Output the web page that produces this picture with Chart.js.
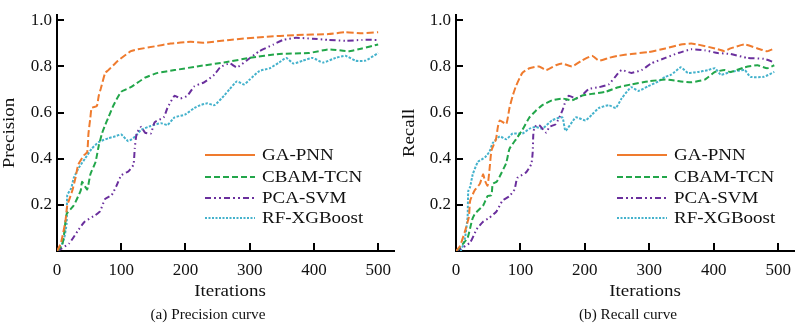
<!DOCTYPE html>
<html>
<head>
<meta charset="utf-8">
<script src="https://cdn.jsdelivr.net/npm/chart.js@4.4.0/dist/chart.umd.min.js"></script>
<style>
  body { margin: 0; background: #fff; font-family: 'Liberation Serif', serif; }
  .wrap { position: relative; width: 800px; height: 328px; }
  canvas { position: absolute; top: 0; }
  #precisionChart { left: 0; }
  #recallChart { left: 400px; }
  .font-warm { position: absolute; left: -1000px; top: 0; font-family: 'Liberation Serif'; }
</style>
</head>
<body>
<span class="font-warm">0.2 Iterations</span>
<div class="wrap">
  <canvas id="precisionChart" width="400" height="328"></canvas>
  <canvas id="recallChart" width="400" height="328"></canvas>
</div>
<script>
// Series names and axis ticks
const seriesNames = ['GA-PNN', 'CBAM-TCN', 'PCA-SVM', 'RF-XGBoost'];
const xTicks = [0, 100, 200, 300, 400, 500];
const yTicks = [0.2, 0.4, 0.6, 0.8, 1.0];

// (a) Precision
const gaPrecIter = [0,6,13,16,24,29,33,42,47,49,52,54,62,65,68,75,80,95,115,126,152,177,208,229,269,322,372,423,449,475,500];
const gaPrecVal = [0,0.033,0.127,0.197,0.263,0.32,0.374,0.415,0.428,0.509,0.579,0.62,0.628,0.673,0.702,0.772,0.784,0.825,0.866,0.874,0.887,0.899,0.907,0.903,0.915,0.928,0.936,0.94,0.948,0.944,0.948];
const cbamPrecIter = [0,8,11,15,26,37,39,47,52,60,65,70,75,80,88,100,115,137,157,183,218,260,300,346,392,423,454,475,500];
const cbamPrecVal = [0,0.025,0.074,0.16,0.197,0.263,0.30,0.267,0.333,0.386,0.456,0.509,0.546,0.579,0.632,0.69,0.71,0.751,0.772,0.784,0.80,0.817,0.837,0.854,0.858,0.874,0.866,0.878,0.895];
const pcaPrecIter = [0,3,19,34,43,60,67,75,85,92,100,111,119,121,124,131,137,146,152,166,172,183,192,203,214,229,245,254,269,280,295,315,337,352,372,398,423,449,475,500];
const pcaPrecVal = [0,0.004,0.033,0.094,0.127,0.156,0.172,0.226,0.242,0.279,0.328,0.345,0.374,0.443,0.509,0.538,0.513,0.509,0.558,0.579,0.62,0.673,0.661,0.673,0.714,0.731,0.764,0.796,0.813,0.796,0.825,0.866,0.895,0.915,0.924,0.92,0.915,0.911,0.915,0.915];
const rfPrecIter = [0,6,11,15,16,22,26,34,44,54,65,80,91,100,111,122,131,146,162,172,183,199,214,223,234,245,260,269,280,291,300,315,331,346,357,368,383,398,414,434,449,465,480,500];
const rfPrecVal = [0,0.02,0.053,0.119,0.242,0.271,0.316,0.361,0.402,0.443,0.472,0.489,0.497,0.505,0.476,0.497,0.525,0.542,0.554,0.546,0.579,0.591,0.62,0.632,0.64,0.632,0.673,0.702,0.735,0.722,0.743,0.78,0.792,0.817,0.837,0.813,0.825,0.837,0.817,0.837,0.846,0.825,0.825,0.858];

// (b) Recall
const gaRecIter = [0,6,14,20,22,29,37,42,45,49,52,55,62,65,68,78,83,88,93,103,114,129,140,155,165,180,195,211,222,237,252,272,298,325,349,365,375,402,417,426,448,468,483,494];
const gaRecVal = [0,0.02,0.086,0.148,0.218,0.263,0.291,0.332,0.304,0.283,0.353,0.435,0.484,0.538,0.566,0.55,0.62,0.673,0.714,0.772,0.792,0.80,0.784,0.805,0.813,0.80,0.825,0.846,0.825,0.837,0.846,0.854,0.862,0.878,0.895,0.899,0.895,0.878,0.866,0.878,0.895,0.878,0.866,0.878];
const cbamRecIter = [0,5,18,25,29,42,49,55,57,63,68,78,83,93,103,114,124,134,149,165,180,195,211,232,252,272,298,325,349,365,386,402,417,426,448,468,483,494];
const cbamRecVal = [0,0.012,0.057,0.135,0.16,0.197,0.238,0.242,0.291,0.30,0.324,0.382,0.443,0.484,0.525,0.579,0.608,0.632,0.653,0.661,0.653,0.673,0.681,0.69,0.71,0.722,0.735,0.743,0.735,0.731,0.743,0.776,0.784,0.776,0.796,0.805,0.792,0.805];
const pcaRecIter = [0,6,22,32,42,52,63,72,83,91,95,109,117,119,120,122,129,140,145,155,165,170,175,186,195,206,222,237,247,257,272,288,303,325,345,365,386,406,426,452,478,494];
const pcaRecVal = [0,0.008,0.037,0.094,0.127,0.144,0.172,0.218,0.238,0.267,0.316,0.341,0.378,0.427,0.505,0.538,0.546,0.513,0.538,0.55,0.608,0.649,0.673,0.661,0.673,0.702,0.71,0.722,0.755,0.784,0.772,0.784,0.813,0.837,0.858,0.874,0.87,0.858,0.854,0.837,0.833,0.817];
const rfRecIter = [0,8,14,18,19,22,26,34,45,52,57,68,78,88,103,114,124,134,149,165,170,186,201,211,222,237,248,257,272,283,298,314,325,334,349,360,375,391,402,411,426,448,457,478,494];
const rfRecVal = [0,0.004,0.057,0.148,0.259,0.279,0.332,0.386,0.406,0.431,0.468,0.497,0.484,0.509,0.509,0.53,0.538,0.53,0.566,0.579,0.521,0.579,0.566,0.591,0.62,0.632,0.62,0.661,0.71,0.694,0.714,0.735,0.755,0.764,0.796,0.772,0.776,0.784,0.792,0.764,0.776,0.784,0.755,0.755,0.776];

// Line styles per series (plot dash vs legend sample dash)
const seriesStyles = [
    { color: '#ef7b2e', dash: [7, 3], legendDash: [] },
    { color: '#22a64a', dash: [6, 3], legendDash: [6, 3] },
    { color: '#6a2f9d', dash: [6, 3, 1.5, 3, 1.5, 3], legendDash: [6, 3, 2, 3, 2, 3] },
    { color: '#44b2cc', dash: [2.5, 1.5], legendDash: [2, 1.5] }
];

const serif = "'Liberation Serif'";

function toPoints(xs, ys) {
    return xs.map((x, i) => ({ x: x, y: ys[i] }));
}

// Inward tick marks, axis titles, caption and the in-plot legend
const framePlugin = {
    id: 'frame',
    afterDraw(chart, args, opts) {
        const { ctx, chartArea: a, scales: { x, y } } = chart;
        ctx.save();
        ctx.strokeStyle = '#000';
        ctx.lineWidth = 2;
        ctx.setLineDash([]);
        ctx.beginPath();
        xTicks.forEach(v => {
            if (v === 0) return;
            const px = Math.round(x.getPixelForValue(v));
            ctx.moveTo(px, a.bottom);
            ctx.lineTo(px, a.bottom - 8);
        });
        yTicks.forEach(v => {
            const py = Math.round(y.getPixelForValue(v));
            ctx.moveTo(a.left, py);
            ctx.lineTo(a.left + 7, py);
        });
        ctx.stroke();

        ctx.fillStyle = '#111';
        ctx.textAlign = 'center';
        ctx.textBaseline = 'middle';

        // y title
        ctx.save();
        ctx.translate(opts.yTitleX, 133);
        ctx.rotate(-Math.PI / 2);
        ctx.scale(1.15, 1);
        ctx.font = '16.5px ' + serif;
        ctx.fillText(opts.yTitle, 0, 0);
        ctx.restore();

        // x title
        ctx.save();
        ctx.translate(opts.xTitleX, 292);
        ctx.scale(1.15, 1);
        ctx.font = '16.5px ' + serif;
        ctx.fillText('Iterations', 0, 0);
        ctx.restore();

        // caption
        ctx.save();
        ctx.translate(opts.captionX, 315);
        ctx.scale(1.05, 1);
        ctx.font = '14.5px ' + serif;
        ctx.fillText(opts.caption, 0, 0);
        ctx.restore();

        // legend
        const rows = [155, 177, 198, 218];
        chart.data.datasets.forEach((ds, i) => {
            const st = seriesStyles[i];
            ctx.strokeStyle = st.color;
            ctx.lineWidth = 2;
            ctx.setLineDash(st.legendDash);
            ctx.beginPath();
            ctx.moveTo(opts.legendX, rows[i]);
            ctx.lineTo(opts.legendX + 50, rows[i]);
            ctx.stroke();

            ctx.save();
            ctx.translate(opts.legendX + 57, rows[i] + 1);
            ctx.scale(1.15, 1);
            ctx.font = '16.5px ' + serif;
            ctx.textAlign = 'left';
            ctx.fillStyle = '#111';
            ctx.fillText(ds.label, 0, 0);
            ctx.restore();
        });
        ctx.restore();
    }
};

function makeChart(id, seriesData, frame, leftWidth, xMax) {
    const datasets = seriesData.map((pts, i) => ({
        label: seriesNames[i],
        data: pts,
        borderColor: seriesStyles[i].color,
        borderDash: seriesStyles[i].dash,
        borderWidth: 2,
        pointRadius: 0,
        tension: 0.15,
        fill: false
    }));

    return new Chart(document.getElementById(id), {
        type: 'line',
        data: { datasets: datasets },
        options: {
            responsive: false,
            animation: false,
            devicePixelRatio: 1,
            layout: { padding: { top: 2, right: 2, left: 0, bottom: 0 } },
            plugins: {
                legend: { display: false },
                tooltip: { enabled: false },
                frame: frame
            },
            scales: {
                x: {
                    type: 'linear',
                    min: 0,
                    max: xMax,
                    afterFit: s => { s.height = 77; },
                    afterBuildTicks: s => { s.ticks = xTicks.map(v => ({ value: v })); },
                    grid: { display: false, drawTicks: false },
                    border: { display: true, color: '#000', width: 2 },
                    ticks: {
                        font: { family: serif, size: 17 },
                        color: '#111',
                        padding: 9,
                        maxRotation: 0,
                        autoSkip: false
                    }
                },
                y: {
                    type: 'linear',
                    min: 0,
                    max: 1.022,
                    afterFit: s => { s.width = leftWidth; },
                    afterBuildTicks: s => { s.ticks = yTicks.map(v => ({ value: v })); },
                    grid: { display: false, drawTicks: false },
                    border: { display: true, color: '#000', width: 2 },
                    ticks: {
                        font: { family: serif, size: 17 },
                        color: '#111',
                        padding: 5,
                        callback: v => v.toFixed(1)
                    }
                }
            }
        },
        plugins: [framePlugin]
    });
}

function drawAll() {
    makeChart('precisionChart', [
        toPoints(gaPrecIter, gaPrecVal),
        toPoints(cbamPrecIter, cbamPrecVal),
        toPoints(pcaPrecIter, pcaPrecVal),
        toPoints(rfPrecIter, rfPrecVal)
    ], { yTitle: 'Precision', yTitleX: 10, xTitleX: 230, caption: '(a) Precision curve', captionX: 208, legendX: 205 }, 57, 525);

    makeChart('recallChart', [
        toPoints(gaRecIter, gaRecVal),
        toPoints(cbamRecIter, cbamRecVal),
        toPoints(pcaRecIter, pcaRecVal),
        toPoints(rfRecIter, rfRecVal)
    ], { yTitle: 'Recall', yTitleX: 10, xTitleX: 245, caption: '(b) Recall curve', captionX: 228, legendX: 217 }, 56, 526);
}

// make sure the serif face is ready before the canvases paint text
document.fonts.load("17px 'Liberation Serif'").then(drawAll, drawAll);
</script>
</body>
</html>
